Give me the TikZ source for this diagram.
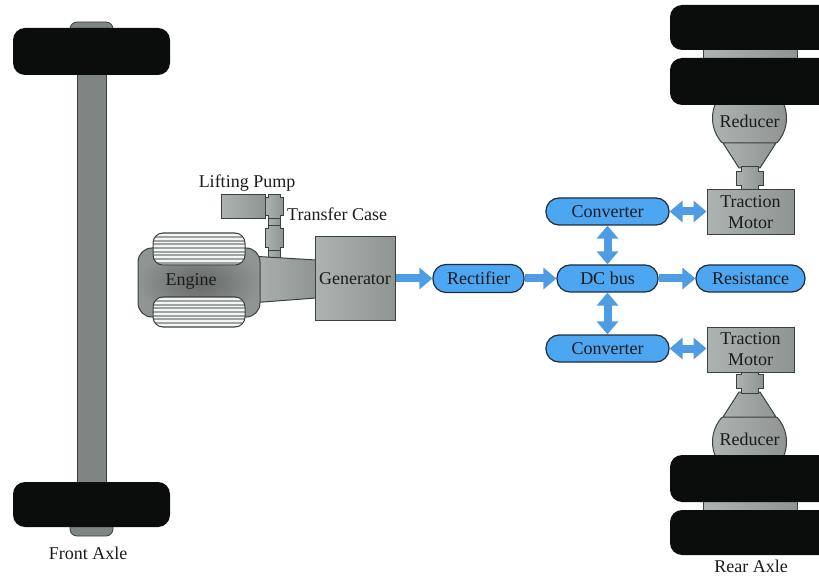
\documentclass[tikz,border=0pt]{standalone}
\usepackage{fontspec}
\setmainfont{Liberation Serif}
\usetikzlibrary{arrows.meta}
\definecolor{busblue}{HTML}{4DA6F2}
\definecolor{arrowblue}{HTML}{4E9CE3}
\definecolor{edgeblue}{HTML}{1E2B3C}
\definecolor{partlight}{HTML}{ADB3B0}
\definecolor{partdark}{HTML}{8E9593}
\definecolor{partedge}{HTML}{3B403F}
\definecolor{tyre}{HTML}{0B0D0C}
\definecolor{shaftgrey}{HTML}{7E8583}
\definecolor{enginegrey}{HTML}{8F9593}
\definecolor{stripegrey}{HTML}{9EA4A2}
\definecolor{labeltext}{HTML}{1B1B1B}

% rear drive unit: wheels, axle stub, reducer and coupling (drawn above the motor)
\newcommand\rearunit{%
  \begin{scope}
    \clip (700,95) rectangle (800,143);
    \draw[part] (749.5,118) circle (37);
  \end{scope}
  \draw[part] (723,143) -- (776,143) -- (760,168) -- (739,168) -- cycle;
  \draw[part] (741,167) -- (758,167) -- (758,172) -- (763,172) -- (763,186)
    -- (758,186) -- (758,191) -- (741,191) -- (741,186) -- (736,186)
    -- (736,172) -- (741,172) -- cycle;
  \draw[part] (703,46) rectangle (797,62);
  \fill[tyre, rounded corners=12pt] (670,5) rectangle (840,50);
  \fill[tyre, rounded corners=12pt] (670,58) rectangle (840,105);
}

\begin{document}
\begin{tikzpicture}[x=1pt,y=-1pt,
  font=\fontsize{18}{21}\selectfont,
  busbox/.style={draw=edgeblue, line width=1.2pt, fill=busblue,
    rounded corners=13pt, text=labeltext, inner sep=0pt},
  part/.style={draw=partedge, line width=1pt, left color=partlight,
    right color=partdark},
  partbox/.style={part, text=labeltext, inner sep=0pt, align=center},
  label/.style={text=labeltext, inner sep=0pt},
  flow/.style={draw=arrowblue, line width=8pt,
    -{Triangle[width=21pt,length=13pt]}},
  bothway/.style={draw=arrowblue, line width=8pt,
    {Triangle[width=21pt,length=13pt]}-{Triangle[width=21pt,length=13pt]}}]

\useasboundingbox (0,0) rectangle (819,577);

% ---------------- front axle ----------------
\draw[draw=partedge, fill=shaftgrey, rounded corners=7pt, line width=0.8pt]
  (70,22) rectangle (113,45);
\draw[draw=partedge, fill=shaftgrey, rounded corners=7pt, line width=0.8pt]
  (70,513) rectangle (113,536);
\draw[draw=partedge, fill=shaftgrey, line width=0.8pt] (77,40) rectangle (106,520);
\fill[tyre, rounded corners=12pt] (13,28) rectangle (170,75);
\fill[tyre, rounded corners=12pt] (13,482) rectangle (170,527);
\node[label] (frontlabel) at (88,553) {Front Axle};

% ---------------- lifting pump and transfer case ----------------
\node[partbox, minimum width=44pt, minimum height=24pt] (pump) at (243,207) {};
\draw[part] (268,216) rectangle (280,262);
\draw[part] (268,195) -- (280,195) -- (280,198) -- (283,198) -- (283,216)
  -- (280,216) -- (280,219) -- (268,219) -- (268,216) -- (265,216)
  -- (265,198) -- (268,198) -- cycle;
\draw[part] (268,226) -- (280,226) -- (280,229) -- (283,229) -- (283,248)
  -- (280,248) -- (280,251) -- (268,251) -- (268,248) -- (265,248)
  -- (265,229) -- (268,229) -- cycle;
\node[label] (pumplabel) at (247,183) {Lifting Pump};
\node[label, anchor=west] (caselabel) at (287,214) {Transfer Case};

% ---------------- engine ----------------
\draw[part] (250,256) -- (316,260) -- (316,298) -- (250,303) -- cycle;
\draw[draw=partedge, line width=1pt, rounded corners=14pt,
  shading=radial, inner color=enginegrey!70!black, outer color=enginegrey]
  (138,248) rectangle (260,317);
\foreach \ya/\yb in {233/265, 297/327}{
  \begin{scope}
    \clip[rounded corners=10pt] (153,\ya) rectangle (245,\yb);
    \fill[stripegrey] (150,\ya) rectangle (250,\yb);
    \foreach \k in {0,...,8}
      \draw[white!92!gray, line width=1.7pt] (150,\ya+2+\k*3.7) -- (250,\ya+2+\k*3.7);
  \end{scope}
  \draw[partedge, line width=1pt, rounded corners=10pt] (153,\ya) rectangle (245,\yb);
}
\node[label] (engine) at (191,281) {Engine};

% ---------------- electric drive chain ----------------
\node[partbox, minimum width=80pt, minimum height=83pt] (gen) at (355,278.5) {Generator};
\node[busbox, minimum width=91pt, minimum height=28pt] (rect) at (478.5,278.5) {Rectifier};
\node[busbox, minimum width=101pt, minimum height=27pt] (dcbus) at (607.5,278.5) {DC bus};
\node[busbox, minimum width=109pt, minimum height=27pt] (res) at (750.5,278.5) {Resistance};
\node[busbox, minimum width=123pt, minimum height=27pt] (convT) at (607.5,211.5) {Converter};
\node[busbox, minimum width=123pt, minimum height=27pt] (convB) at (607.5,348.5) {Converter};

% ---------------- rear axle ----------------
\rearunit
\begin{scope}[shift={(0,560)}, yscale=-1]
  \rearunit
\end{scope}
\node[label] (redT) at (749.5,121) {Reducer};
\node[label] (redB) at (749.5,439) {Reducer};
\node[partbox, minimum width=87pt, minimum height=45pt] (tmT) at (750.5,212.5)
  {Traction\\Motor};
\node[partbox, minimum width=87pt, minimum height=45pt] (tmB) at (750.5,349.5)
  {Traction\\Motor};
\node[label] (rearlabel) at (751,566) {Rear Axle};

% ---------------- power flow arrows ----------------
\draw[flow] (gen.east) -- (rect.west);
\draw[flow] (rect.east) -- (dcbus.west);
\draw[flow] (dcbus.east) -- (res.west);
\draw[bothway] (convT.south) -- (dcbus.north);
\draw[bothway] (dcbus.south) -- (convB.north);
\draw[bothway] (convT.east) -- (convT.east -| tmT.west);
\draw[bothway] (convB.east) -- (convB.east -| tmB.west);

\end{tikzpicture}
\end{document}
